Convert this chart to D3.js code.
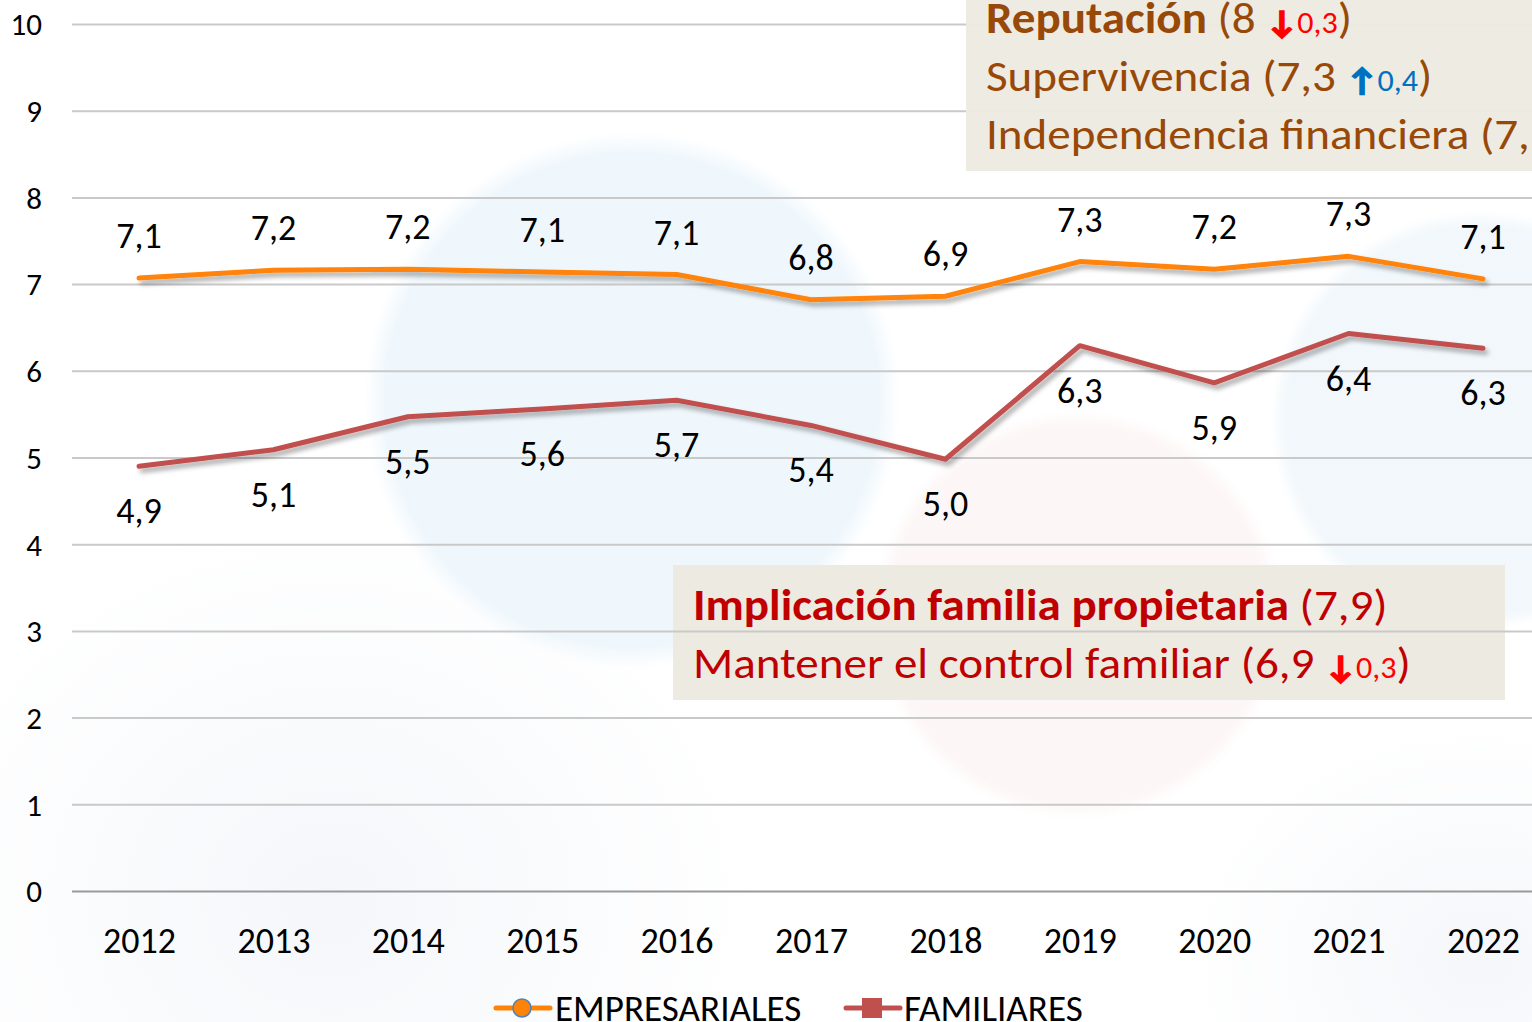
<!DOCTYPE html>
<html><head><meta charset="utf-8">
<script src="https://cdn.jsdelivr.net/npm/d3@7"></script>
<style>html,body{margin:0;padding:0;background:#fff;overflow:hidden}</style>
</head><body><svg id="c" width="1532" height="1022"></svg>
<script>
const years = [2012,2013,2014,2015,2016,2017,2018,2019,2020,2021,2022];
const empresariales = [7.07,7.16,7.17,7.14,7.11,6.82,6.86,7.26,7.17,7.32,7.06];
const familiares = [4.90,5.09,5.47,5.56,5.66,5.37,4.98,6.29,5.86,6.43,6.26];
const yTicks = [0,1,2,3,4,5,6,7,8,9,10];
const seriesNames = ["EMPRESARIALES","FAMILIARES"];
const topNotes = [
  {label:"Reputación", bold:true, value:"8", arrow:"down", delta:"0,3"},
  {label:"Supervivencia", bold:false, value:"7,3", arrow:"up", delta:"0,4"},
  {label:"Independencia financiera", bold:false, value:"7,", arrow:null, delta:null, open:true}
];
const bottomNotes = [
  {label:"Implicación familia propietaria", bold:true, value:"7,9", arrow:null, delta:null},
  {label:"Mantener el control familiar", bold:false, value:"6,9", arrow:"down", delta:"0,3"}
];

const FONT = "Carlito, Calibri, Lato, 'Open Sans', sans-serif";
const svg = d3.select("#c").style("font-family", FONT);
const W = 1532, H = 1022;
const x = d3.scalePoint(years, [139, 1483]);
const y = d3.scaleLinear([0, 10], [891, 24]);
const fmt = v => d3.format(".1f")(v).replace(".", ",");

const defs = svg.append("defs");
function radial(id, color, op) {
  const g = defs.append("radialGradient").attr("id", id);
  g.append("stop").attr("offset", "0%").attr("stop-color", color).attr("stop-opacity", op);
  g.append("stop").attr("offset", "92%").attr("stop-color", color).attr("stop-opacity", op);
  g.append("stop").attr("offset", "100%").attr("stop-color", color).attr("stop-opacity", 0);
}
function soft(id, color, op) {
  const g = defs.append("radialGradient").attr("id", id);
  g.append("stop").attr("offset", "0%").attr("stop-color", color).attr("stop-opacity", op);
  g.append("stop").attr("offset", "100%").attr("stop-color", color).attr("stop-opacity", 0);
}
radial("gBlue", "#edf6fc", 0.9);
radial("gBlue2", "#eff6fb", 0.85);
radial("gPink", "#fdf4f4", 0.8);
soft("gGrey", "#f0f3f8", 0.7);
const sh = defs.append("filter").attr("id", "shadow").attr("x", "-5%").attr("y", "-50%").attr("width", "110%").attr("height", "200%");
sh.append("feGaussianBlur").attr("in", "SourceAlpha").attr("stdDeviation", 2.5).attr("result", "b");
sh.append("feOffset").attr("dx", 3).attr("dy", 4).attr("result", "o");
sh.append("feComponentTransfer").append("feFuncA").attr("type", "linear").attr("slope", 0.35);
const m = sh.append("feMerge"); m.append("feMergeNode"); m.append("feMergeNode").attr("in", "SourceGraphic");

// background decoration
const bg = svg.append("g");
bg.append("ellipse").attr("cx", 330).attr("cy", 900).attr("rx", 430).attr("ry", 380).attr("fill", "url(#gGrey)");
bg.append("ellipse").attr("cx", 1480).attr("cy", 960).attr("rx", 300).attr("ry", 240).attr("fill", "url(#gGrey)");
bg.append("circle").attr("cx", 1078).attr("cy", 615).attr("r", 205).attr("fill", "url(#gPink)");
bg.append("circle").attr("cx", 632).attr("cy", 400).attr("r", 268).attr("fill", "url(#gBlue)");
bg.append("circle").attr("cx", 1480).attr("cy", 420).attr("r", 210).attr("fill", "url(#gBlue2)");

// bottom note box (under gridlines)
svg.append("rect").attr("x", 673).attr("y", 565).attr("width", 832).attr("height", 135).attr("fill", "#edeae1");

// gridlines / y axis
const ya = svg.append("g").attr("transform", "translate(72,0)")
  .call(d3.axisLeft(y).tickValues(yTicks).tickSize(-(W - 72)).tickPadding(30).tickFormat(d3.format("d")));
ya.select(".domain").remove();
ya.selectAll(".tick line").attr("stroke", d => d === 0 ? "#9a9a9a" : "#c9c9c9").attr("stroke-width", 2);
ya.selectAll(".tick text").attr("fill", "#000").attr("font-size", 31).attr("font-family", FONT).attr("dy", "0.35em");

// x axis labels
const xa = svg.append("g").attr("transform", "translate(0,891)")
  .call(d3.axisBottom(x).tickSize(0).tickPadding(0));
xa.select(".domain").remove();
xa.selectAll(".tick text").attr("fill", "#000").attr("font-size", 36).attr("font-family", FONT).attr("y", 62).attr("dy", 0);

// lines
const line = d3.line().x((d, i) => x(years[i])).y(d => y(d));
const series = [
  {name: seriesNames[0], values: empresariales, color: "#ff8307", off: -30},
  {name: seriesNames[1], values: familiares, color: "#c0504d", off: 57}
];
series.forEach(s => {
  svg.append("path").datum(s.values).attr("d", line).attr("fill", "none")
    .attr("stroke", s.color).attr("stroke-width", 5).attr("stroke-linejoin", "round").attr("stroke-linecap", "round")
    .attr("filter", "url(#shadow)");
});
series.forEach(s => {
  svg.append("g").selectAll("text").data(s.values).join("text")
    .attr("x", (d, i) => x(years[i])).attr("y", d => y(d) + s.off)
    .attr("text-anchor", "middle").attr("font-size", 36).attr("fill", "#000").text(fmt);
});

// top note box
svg.append("rect").attr("x", 966).attr("y", -2).attr("width", 580).attr("height", 173).attr("fill", "#edeae1").attr("fill-opacity", 0.96);

function note(g, n, x0, yb, mainColor, valColor) {
  const t = g.append("text").attr("transform", `translate(${x0},${yb}) scale(1.07,1)`).attr("font-size", 44);
  t.append("tspan").attr("fill", mainColor).attr("font-weight", n.bold ? 700 : 400).text(n.label + " ");
  t.append("tspan").attr("fill", valColor).text("(" + n.value + (n.arrow ? " " : ""));
  if (n.arrow) {
    const c = n.arrow === "down" ? "#ff0000" : "#0070c0";
    t.append("tspan").attr("fill", c).attr("stroke", c).attr("stroke-width", 1.6).attr("font-weight", 700).attr("font-size", 32).text(n.arrow === "down" ? "↓" : "↑");
    t.append("tspan").attr("fill", c).attr("font-size", 30).text(n.delta);
  }
  if (!n.open) t.append("tspan").attr("fill", valColor).text(")");
}
const tg = svg.append("g");
topNotes.forEach((n, i) => note(tg, n, 986, 33 + i * 58, "#984807", "#984807"));
const bgp = svg.append("g");
bottomNotes.forEach((n, i) => note(bgp, n, 693, 620 + i * 58, "#c00000", "#c00000"));

// legend
const lg = svg.append("g");
lg.append("line").attr("x1", 496).attr("x2", 550).attr("y1", 1008).attr("y2", 1008).attr("stroke", "#ff8307").attr("stroke-width", 5).attr("stroke-linecap", "round");
lg.append("circle").attr("cx", 522).attr("cy", 1008).attr("r", 9).attr("fill", "#ff8307").attr("stroke", "#4f81bd").attr("stroke-width", 1.5);
lg.append("text").attr("transform", "translate(555,1021) scale(1.03,1)").attr("font-size", 36).attr("fill", "#000").text(seriesNames[0]);
lg.append("line").attr("x1", 846).attr("x2", 900).attr("y1", 1008).attr("y2", 1008).attr("stroke", "#c0504d").attr("stroke-width", 5).attr("stroke-linecap", "round");
lg.append("rect").attr("x", 862).attr("y", 998).attr("width", 20).attr("height", 20).attr("fill", "#c0504d");
lg.append("text").attr("transform", "translate(904,1021) scale(1.03,1)").attr("font-size", 36).attr("fill", "#000").text(seriesNames[1]);
</script></body></html>
